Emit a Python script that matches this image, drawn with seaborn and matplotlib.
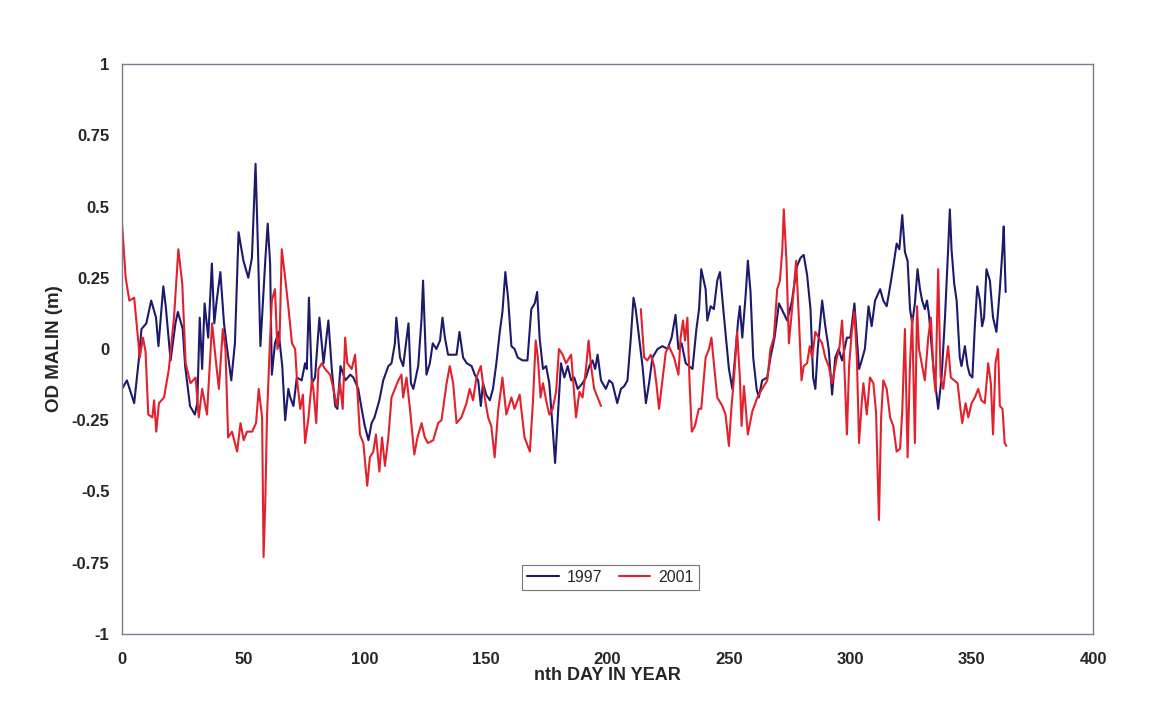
import numpy as np
import pandas as pd
import seaborn as sns
import matplotlib.pyplot as plt

# Datos (dia del año, nivel OD Malin en m)
day_1997 = [0, 2, 5, 7, 8, 10, 12, 14, 15, 17, 18, 20, 22, 23, 25, 26, 28, 30, 31, 32,
            33, 34, 35.5, 37, 38, 39, 40.5, 42, 43, 45, 46.5, 48, 49, 50, 52, 53.5, 55, 56, 57, 59,
            60, 61, 61.7, 63, 64.5, 66, 67.2, 68.5, 69.3, 70.6, 72, 74, 75.4, 76.1, 77, 78.2, 79.5, 81.3, 83, 85,
            86.4, 87.8, 88.7, 90, 92, 94, 95.3, 97.3, 98.7, 100, 101.5, 102.8, 104, 106, 107.6, 109.7, 111, 112.4, 113, 114.5,
            115.8, 118, 119, 120, 122, 123.4, 124, 125.4, 126.8, 128, 129.5, 131, 132, 133, 134.3, 136.4, 137.8, 139, 140.5, 142,
            144, 145.3, 146.7, 147.8, 148.7, 150, 151.5, 152.8, 154.2, 155.6, 156.7, 157.9, 159, 160.4, 161.7, 163, 165, 167, 168.6, 170,
            171, 172, 173.4, 174.7, 176, 177.5, 178.4, 179.5, 180.8, 182.2, 183.6, 185, 186.3, 187.7, 189.7, 191.1, 192.5, 193.8, 194.9, 195.9,
            197.3, 199.3, 200.7, 202, 204, 205.5, 206.9, 208.2, 209.6, 210.7, 211.6, 213, 214.4, 215.8, 217.1, 218.5, 220.6, 222.6, 224.7, 226.4,
            228, 229.2, 230.5, 232.2, 233.6, 235, 236.6, 237.7, 238.6, 240.4, 241.1, 242.5, 243.8, 245.2, 246.3, 248, 250, 251.4, 252.8, 253.7,
            254.5, 255.5, 256.9, 257.8, 258.9, 260, 261.4, 262.3, 263.7, 265.8, 267.1, 268.8, 270.6, 272.3, 274, 276, 278, 279.5, 280.8, 282.2,
            283.6, 284.7, 285.6, 286.6, 288.4, 289.7, 291.1, 292.5, 293.8, 295.2, 296.6, 298.6, 300, 301.7, 302.7, 303.6, 304.7, 306, 307.5, 308.8,
            310.2, 312.3, 313.6, 315, 316.4, 317.7, 319.1, 320.2, 321.4, 322.5, 323.6, 324.6, 325.5, 326.6, 327.7, 328.7, 329.6, 330.7, 331.6, 332.4,
            334.2, 336.2, 337.6, 339, 340.3, 341, 341.7, 342.8, 343.8, 345.1, 345.8, 347.2, 348.3, 349.2, 350.3, 351.3, 352.3, 353.4, 354.3, 355.1,
            356.1, 357.5, 358.8, 360.2, 361.6, 362.7, 363.2, 364]
od_1997 = [-0.14, -0.11, -0.19, -0.03, 0.07, 0.09, 0.17, 0.11, 0.01, 0.22, 0.15, -0.04, 0.09, 0.13, 0.07, -0.06, -0.20, -0.23, -0.19, 0.11,
           -0.07, 0.16, 0.04, 0.30, 0.09, 0.17, 0.27, 0.09, 0.02, -0.11, 0.02, 0.41, 0.36, 0.31, 0.25, 0.32, 0.65, 0.35, 0.01, 0.31,
           0.44, 0.30, -0.09, 0.02, 0.06, -0.06, -0.25, -0.14, -0.17, -0.20, -0.10, -0.11, -0.05, -0.07, 0.18, -0.12, -0.10, 0.11, -0.05, 0.10,
           -0.07, -0.20, -0.21, -0.06, -0.11, -0.09, -0.10, -0.14, -0.21, -0.27, -0.32, -0.26, -0.24, -0.18, -0.11, -0.06, -0.05, 0.02, 0.11, -0.03,
           -0.06, 0.09, -0.12, -0.14, -0.06, 0.11, 0.24, -0.09, -0.05, 0.02, 0.00, 0.03, 0.11, 0.04, -0.02, -0.02, -0.02, 0.06, -0.03, -0.05,
           -0.06, -0.09, -0.11, -0.20, -0.12, -0.16, -0.18, -0.14, -0.05, 0.06, 0.13, 0.27, 0.18, 0.01, 0.00, -0.03, -0.04, -0.04, 0.14, 0.16,
           0.20, 0.04, -0.07, -0.06, -0.12, -0.29, -0.40, -0.24, -0.05, -0.10, -0.06, -0.11, -0.10, -0.14, -0.12, -0.10, -0.06, -0.04, -0.07, -0.02,
           -0.11, -0.14, -0.11, -0.12, -0.19, -0.14, -0.13, -0.11, 0.04, 0.18, 0.14, 0.04, -0.06, -0.19, -0.12, -0.03, 0.00, 0.01, 0.00, 0.04,
           0.12, 0.00, 0.02, -0.05, -0.06, -0.07, 0.07, 0.14, 0.28, 0.21, 0.10, 0.15, 0.14, 0.24, 0.27, 0.11, -0.07, -0.14, 0.00, 0.09,
           0.15, 0.04, 0.19, 0.31, 0.20, -0.03, -0.14, -0.17, -0.11, -0.10, -0.03, 0.04, 0.16, 0.13, 0.10, 0.17, 0.29, 0.32, 0.33, 0.26,
           0.14, -0.10, -0.14, 0.00, 0.17, 0.08, 0.00, -0.16, -0.03, 0.00, -0.04, 0.04, 0.04, 0.16, 0.04, -0.07, -0.04, 0.00, 0.15, 0.08,
           0.17, 0.21, 0.17, 0.15, 0.22, 0.29, 0.37, 0.35, 0.47, 0.34, 0.31, 0.14, 0.09, 0.16, 0.28, 0.21, 0.17, 0.14, 0.17, 0.12,
           -0.06, -0.21, -0.10, 0.11, 0.35, 0.49, 0.35, 0.23, 0.17, -0.03, -0.06, 0.01, -0.06, -0.09, -0.10, 0.08, 0.22, 0.17, 0.08, 0.11,
           0.28, 0.24, 0.11, 0.06, 0.21, 0.35, 0.43, 0.20]

day_2001 = [0, 1.5, 3, 5, 6.3, 7.3, 8.6, 9.7, 10.8, 12.5, 13.2, 14.1, 15.2, 17.3, 19.3, 21.4, 23.2, 24.8, 26.2, 28.2,
            30.3, 31.6, 33, 35, 37.1, 38.5, 39.9, 41.5, 42.6, 43.7, 45.3, 47.4, 48.8, 50.1, 51.5, 53.6, 55.2, 56.3, 57.7, 58.3,
            59, 59.7, 60.8, 61.7, 63, 64, 64.9, 65.8, 67.2, 68.6, 70, 71.3, 72, 73.4, 74.5, 75.4, 76.8, 78.2, 78.8, 80,
            80.9, 82.3, 83.6, 85.7, 87.1, 88.4, 89.8, 90.9, 91.9, 92.8, 94.6, 96, 96.9, 98, 99.4, 101, 102.1, 103.5, 104.6, 106,
            107.1, 108.3, 109.7, 111, 112.4, 113.8, 115.1, 115.8, 117.2, 118.6, 120.4, 121.7, 123.4, 124.7, 126, 128.2, 130.2, 131.6, 133.7, 135,
            136.4, 137.8, 139.8, 141.9, 143.2, 144.6, 146, 147.8, 149.4, 150.8, 152.1, 153.5, 154.9, 156.7, 158.3, 160.4, 161.7, 163.8, 165.8, 168,
            169.3, 170.4, 171.3, 172.4, 173.4, 174.7, 176, 177.4, 178.8, 180, 181.5, 182.9, 185, 185.9, 187, 188.4, 189.7, 191.1, 192.2, 193.2,
            194.5, 195.9, 197.3,
            213.7, 215.1, 216.4, 217.8, 219.2, 220.1, 221.2, 222.6, 224, 225.3, 227.4, 229.2, 230.1, 231.1, 231.9, 232.9, 233.8,
            234.7, 236, 237.6, 238.6, 240.4, 241.8, 242.8, 243.8, 245.2, 247.3, 248.6, 250, 251, 252.1, 253.4, 254.5, 255.2, 256.2, 257.8,
            259.6, 261.7, 263.7, 265.8, 267.1, 268.5, 269.9, 271, 272, 272.6, 273.7, 274.7, 276, 277.7, 278.8, 279.9, 280.8, 282.2, 283.3, 284.3,
            285.6, 287, 288.4, 289.7, 291.1, 292.5, 294.5, 295.6, 296.6, 297.3, 298.6, 299.5, 300.6, 301.7, 302.7, 303.6, 304.7, 305.4, 306.8, 308.1,
            309.5, 310.6, 311.8, 312.7, 313.6, 315, 316.4, 317.7, 319.1, 320.5, 321.4, 322.5, 323.6, 324.6, 325.5, 326.6, 327.5, 328.3, 329.4, 330.7,
            332.1, 333.2, 334.2, 335.1, 336.2, 337.2, 338.3, 339.2, 340.3, 341.4, 342.8, 344.2, 345.1, 346.1, 347.5, 348.6, 350, 351.3, 352.7, 354,
            355.4, 356.8, 357.9, 358.8, 359.8, 360.9, 361.6, 362.7, 363.6, 364.3]
od_2001 = [0.44, 0.25, 0.17, 0.18, 0.06, -0.03, 0.04, -0.01, -0.23, -0.24, -0.18, -0.29, -0.19, -0.17, -0.07, 0.11, 0.35, 0.23, -0.05, -0.12,
           -0.10, -0.24, -0.14, -0.23, 0.09, -0.03, -0.14, 0.07, 0.00, -0.31, -0.29, -0.36, -0.26, -0.32, -0.29, -0.29, -0.26, -0.14, -0.24, -0.73,
           -0.54, -0.24, 0.00, 0.17, 0.21, 0.00, 0.04, 0.35, 0.25, 0.14, 0.02, 0.00, -0.10, -0.21, -0.16, -0.33, -0.24, -0.11, -0.14, -0.26,
           -0.07, -0.05, -0.07, -0.09, -0.14, -0.20, -0.12, -0.21, 0.04, -0.05, -0.07, -0.02, -0.14, -0.30, -0.33, -0.48, -0.38, -0.36, -0.30, -0.43,
           -0.31, -0.41, -0.31, -0.17, -0.14, -0.11, -0.09, -0.17, -0.10, -0.21, -0.37, -0.31, -0.26, -0.31, -0.33, -0.32, -0.26, -0.25, -0.12, -0.06,
           -0.12, -0.26, -0.24, -0.19, -0.14, -0.18, -0.10, -0.06, -0.17, -0.24, -0.27, -0.38, -0.22, -0.10, -0.23, -0.17, -0.21, -0.16, -0.31, -0.36,
           -0.18, 0.03, -0.03, -0.17, -0.12, -0.18, -0.23, -0.21, -0.15, 0.00, -0.02, -0.05, -0.02, -0.12, -0.24, -0.15, -0.17, -0.07, 0.03, -0.06,
           -0.14, -0.17, -0.20,
           0.14, -0.03, -0.04, -0.02, -0.06, -0.12, -0.21, -0.11, -0.01, 0.01, -0.03, -0.09, 0.04, 0.10, 0.03, 0.11, -0.12,
           -0.29, -0.27, -0.21, -0.21, -0.03, 0.00, 0.04, -0.05, -0.17, -0.20, -0.23, -0.34, -0.21, -0.10, 0.06, -0.10, -0.27, -0.13, -0.30,
           -0.22, -0.17, -0.14, -0.11, 0.00, 0.04, 0.21, 0.24, 0.35, 0.49, 0.31, 0.02, 0.14, 0.31, 0.11, -0.11, -0.06, -0.05, 0.01, -0.03,
           0.06, 0.04, 0.02, -0.03, -0.06, -0.12, -0.03, 0.01, 0.10, 0.00, -0.30, -0.06, 0.06, 0.13, -0.03, -0.33, -0.19, -0.12, -0.23, -0.10,
           -0.12, -0.22, -0.60, -0.24, -0.11, -0.14, -0.24, -0.27, -0.36, -0.35, -0.22, 0.07, -0.38, -0.05, 0.11, -0.33, 0.15, 0.00, -0.05, -0.11,
           0.04, 0.11, -0.07, -0.15, 0.28, -0.10, -0.14, -0.07, 0.01, -0.10, -0.11, -0.12, -0.19, -0.26, -0.19, -0.24, -0.19, -0.17, -0.14, -0.18,
           -0.19, -0.05, -0.12, -0.30, -0.05, 0.00, -0.20, -0.21, -0.33, -0.34]

y_ticks = [1, 0.75, 0.5, 0.25, 0, -0.25, -0.5, -0.75, -1]
y_labels = ["1", "0.75", "0.5", "0.25", "0", "-0.25", "-0.5", "-0.75", "-1"]
x_ticks = [0, 50, 100, 150, 200, 250, 300, 350, 400]


def tramos(dias):
    # corta la linea donde faltan datos (huecos de mas de 5 dias)
    d = np.asarray(dias)
    return np.concatenate([[0], np.cumsum(np.diff(d) > 5)])


df = pd.concat([
    pd.DataFrame({"dia": day_1997, "od": od_1997, "año": "1997", "tramo": tramos(day_1997)}),
    pd.DataFrame({"dia": day_2001, "od": od_2001, "año": "2001", "tramo": tramos(day_2001)}),
], ignore_index=True)

sns.set_style("white")
plt.rcParams["font.family"] = ["Liberation Sans", "DejaVu Sans"]

fig = plt.figure(figsize=(11.59, 7.09), dpi=100)
ax = fig.add_axes([0.1053, 0.1058, 0.8378, 0.8039])

sns.lineplot(data=df, x="dia", y="od", hue="año", units="tramo", estimator=None, sort=False,
             palette={"1997": "#1c1a6b", "2001": "#e3212d"}, linewidth=1.5, ax=ax)

ax.set_xlim(0, 400)
ax.set_ylim(-1, 1)
ax.set_xticks(x_ticks)
ax.set_xticklabels([str(t) for t in x_ticks], fontsize=12, fontweight="bold")
ax.set_yticks(y_ticks)
ax.set_yticklabels(y_labels, fontsize=12, fontweight="bold")
ax.tick_params(axis="both", direction="inout", length=4, width=1, color="#7f7a90")
ax.tick_params(axis="y", pad=7)
ax.tick_params(axis="x", pad=11)

ax.set_xlabel("nth DAY IN YEAR", fontsize=13, fontweight="bold", labelpad=0)
ax.set_ylabel("OD MALIN (m)", fontsize=13.5, fontweight="bold", labelpad=6)

for lado in ["left", "bottom", "top", "right"]:
    ax.spines[lado].set_color("#7f7a90")
    ax.spines[lado].set_linewidth(1.0)

handles, labels = ax.get_legend_handles_labels()
leg = ax.legend(handles, labels, loc="center", bbox_to_anchor=(0.503, 0.099), ncol=2,
                frameon=True, fancybox=False, edgecolor="#555555", fontsize=11.5,
                handlelength=2.0, columnspacing=1.0, borderpad=0.3, handletextpad=0.5)
leg.get_frame().set_linewidth(0.8)

plt.savefig("out.png", dpi=100)
